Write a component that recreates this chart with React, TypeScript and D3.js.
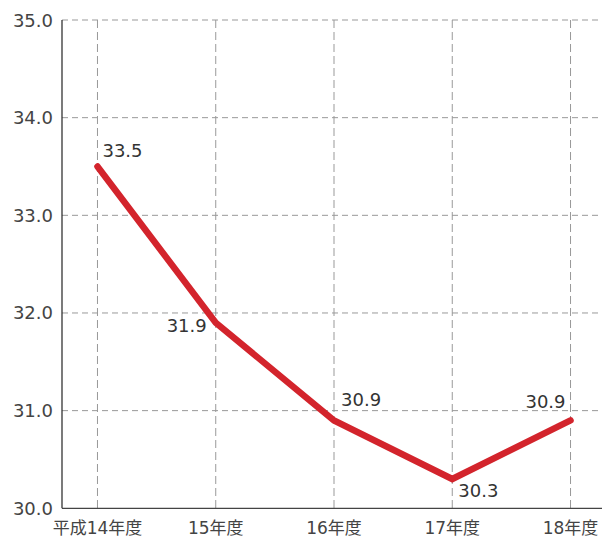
import React, { useEffect, useRef } from 'react';
import * as d3 from 'd3';

// fiscal years and values
const categories = ['平成14年度', '15年度', '16年度', '17年度', '18年度'];
const values = [33.5, 31.9, 30.9, 30.3, 30.9];
const yTicks = [30, 31, 32, 33, 34, 35];
// label offsets relative to each point [dx, dy, anchor]
const labelPos: [number, number, string][] = [
  [5, -9, 'start'],
  [-9, 9, 'end'],
  [7, -14, 'start'],
  [6, 18, 'start'],
  [-5, -12, 'end'],
];

const FONT = '"DejaVu Sans", "Noto Sans CJK JP", sans-serif';

const App: React.FC = () => {
  const svgRef = useRef<SVGSVGElement>(null);

  useEffect(() => {
    if (!svgRef.current) return;
    const svg = d3.select(svgRef.current);
    svg.selectAll('*').remove();

    const left = 62;
    const top = 20;
    const bottom = 508.3;

    const x = d3.scalePoint<string>()
      .domain(categories)
      .range([left, 606])
      .padding(0.3);

    const y = d3.scaleLinear()
      .domain([30, 35])
      .range([bottom, top]);

    const g = svg.append('g');

    // horizontal grid
    g.selectAll('.hgrid')
      .data(yTicks.slice(1))
      .enter()
      .append('line')
      .attr('x1', left)
      .attr('x2', 602)
      .attr('y1', d => y(d))
      .attr('y2', d => y(d))
      .attr('stroke', '#999')
      .attr('stroke-width', 1)
      .attr('stroke-dasharray', '6,4');

    // vertical grid
    g.selectAll('.vgrid')
      .data(categories)
      .enter()
      .append('line')
      .attr('x1', d => x(d) || 0)
      .attr('x2', d => x(d) || 0)
      .attr('y1', top)
      .attr('y2', bottom)
      .attr('stroke', '#999')
      .attr('stroke-width', 1)
      .attr('stroke-dasharray', '8,4');

    // axes lines
    g.append('line')
      .attr('x1', left).attr('x2', left)
      .attr('y1', top).attr('y2', bottom)
      .attr('stroke', '#222').attr('stroke-width', 1.2);
    g.append('line')
      .attr('x1', left).attr('x2', 602)
      .attr('y1', bottom).attr('y2', bottom)
      .attr('stroke', '#444').attr('stroke-width', 1.2);

    // y tick labels
    g.selectAll('.ylab')
      .data(yTicks)
      .enter()
      .append('text')
      .attr('x', 53)
      .attr('y', d => y(d) + 6.5)
      .attr('text-anchor', 'end')
      .attr('font-family', FONT)
      .attr('font-size', 18)
      .attr('fill', '#444')
      .text(d => d.toFixed(1));

    // x labels
    g.selectAll('.xlab')
      .data(categories)
      .enter()
      .append('text')
      .attr('x', d => x(d) || 0)
      .attr('y', 534)
      .attr('text-anchor', 'middle')
      .attr('font-family', FONT)
      .attr('font-size', 17)
      .attr('fill', '#444')
      .text(d => d);

    // line
    const line = d3.line<number>()
      .x((_d, i) => x(categories[i]) || 0)
      .y(d => y(d));

    g.append('path')
      .datum(values)
      .attr('d', line)
      .attr('fill', 'none')
      .attr('stroke', '#d3242c')
      .attr('stroke-width', 6.5)
      .attr('stroke-linejoin', 'miter')
      .attr('stroke-linecap', 'round');

    // value labels
    g.selectAll('.vlab')
      .data(values)
      .enter()
      .append('text')
      .attr('x', (_d, i) => (x(categories[i]) || 0) + labelPos[i][0])
      .attr('y', (d, i) => y(d) + labelPos[i][1])
      .attr('text-anchor', (_d, i) => labelPos[i][2])
      .attr('font-family', FONT)
      .attr('font-size', 18)
      .attr('fill', '#333')
      .text(d => d.toFixed(1));
  }, []);

  return (
    <svg
      ref={svgRef}
      width={602}
      height={538}
      style={{ display: 'block', position: 'absolute', left: 0, top: 0, background: '#fff' }}
    />
  );
};

export default App;
